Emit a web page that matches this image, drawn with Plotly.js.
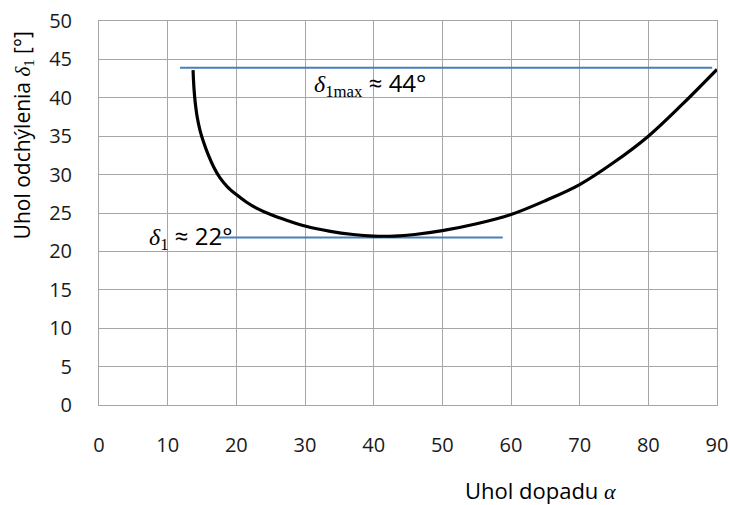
<!DOCTYPE html>
<html>
<head>
<meta charset="utf-8">
<script src="https://cdn.plot.ly/plotly-3.0.1.min.js"></script>
<style>html,body{margin:0;padding:0;background:#fff;}#chart{width:730px;height:505px;}</style>
</head>
<body>
<div id="chart"></div>
<script>
// Curve: angle of incidence alpha [deg] vs deflection delta1 [deg]
const alpha = [13.7, 13.75, 13.85, 14.0, 14.3, 14.7, 15.2, 15.9, 16.7, 17.6, 18.7, 20, 21.5, 23, 25, 27.5, 30, 33.7, 37, 40, 43, 46, 50, 55, 60, 65, 70, 75, 80, 85, 90];
const delta = [43.6, 42.5, 41, 39.5, 37.5, 35.8, 34.3, 32.6, 31.0, 29.6, 28.4, 27.4, 26.4, 25.6, 24.8, 24.0, 23.3, 22.6, 22.2, 22.0, 22.0, 22.2, 22.7, 23.6, 24.8, 26.6, 28.7, 31.6, 35.0, 39.2, 43.7];
// Reference lines
const maxLineX = [11.8, 89.3];
const maxLineY = [43.9, 43.9];
const minLineX = [17.1, 58.8];
const minLineY = [21.8, 21.8];
// Axis ticks
const xTicks = [0, 10, 20, 30, 40, 50, 60, 70, 80, 90];
const yTicks = [0, 5, 10, 15, 20, 25, 30, 35, 40, 45, 50];

const SERIF = 'Liberation Serif';
const SANS = 'Open Sans';

const traces = [
  {x: maxLineX, y: maxLineY, mode: 'lines', line: {color: '#4a7ebb', width: 2}, hoverinfo: 'skip'},
  {x: minLineX, y: minLineY, mode: 'lines', line: {color: '#4a7ebb', width: 2}, hoverinfo: 'skip'},
  {x: alpha, y: delta, mode: 'lines', line: {color: '#000000', width: 3.2, shape: 'spline', smoothing: 1}, hoverinfo: 'skip'}
];

const axisCommon = {
  showgrid: true, gridcolor: '#a6a6a6', gridwidth: 1,
  showline: true, linecolor: '#a6a6a6', linewidth: 1, mirror: true,
  zeroline: false, ticks: '', ticklabelstandoff: 22,
  tickfont: {family: SANS, size: 20, color: '#1a1a1a'}
};

const layout = {
  width: 730, height: 505,
  margin: {l: 99, r: 13, t: 21, b: 100},
  paper_bgcolor: '#ffffff', plot_bgcolor: '#ffffff',
  showlegend: false,
  xaxis: Object.assign({}, axisCommon, {range: [0, 90], tickvals: xTicks, ticktext: xTicks.map(String)}),
  yaxis: Object.assign({}, axisCommon, {range: [0, 50], tickvals: yTicks, ticktext: yTicks.map(String)}),
  annotations: [
    {
      x: 31.0, y: 41.8, xref: 'x', yref: 'y', xanchor: 'left', yanchor: 'middle', showarrow: false,
      text: '<span style="font-family:' + SERIF + '"><i>δ</i><sub>1max</sub></span> ≈ 44°',
      font: {family: SANS, size: 24, color: '#000000'}
    },
    {
      x: 7.0, y: 22.0, xref: 'x', yref: 'y', xanchor: 'left', yanchor: 'middle', showarrow: false,
      text: '<span style="font-family:' + SERIF + '"><i>δ</i><sub>1</sub></span> ≈ 22°',
      font: {family: SANS, size: 24, color: '#000000'}
    },
    {
      x: 0.715, y: 0, xref: 'paper', yref: 'paper', xanchor: 'center', yanchor: 'middle', yshift: -85, showarrow: false,
      text: 'Uhol dopadu <span style="font-family:' + SERIF + '"><i>α</i></span>',
      font: {family: SANS, size: 22, color: '#000000'}
    },
    {
      x: 0, y: 0.702, xref: 'paper', yref: 'paper', xanchor: 'center', yanchor: 'middle', xshift: -77, textangle: -90, showarrow: false,
      text: 'Uhol odchýlenia <span style="font-family:' + SERIF + '"><i>δ</i><sub>1</sub></span> [°]',
      font: {family: SANS, size: 21, color: '#000000'}
    }
  ]
};

Plotly.newPlot('chart', traces, layout, {staticPlot: true, displayModeBar: false});
</script>
</body>
</html>
